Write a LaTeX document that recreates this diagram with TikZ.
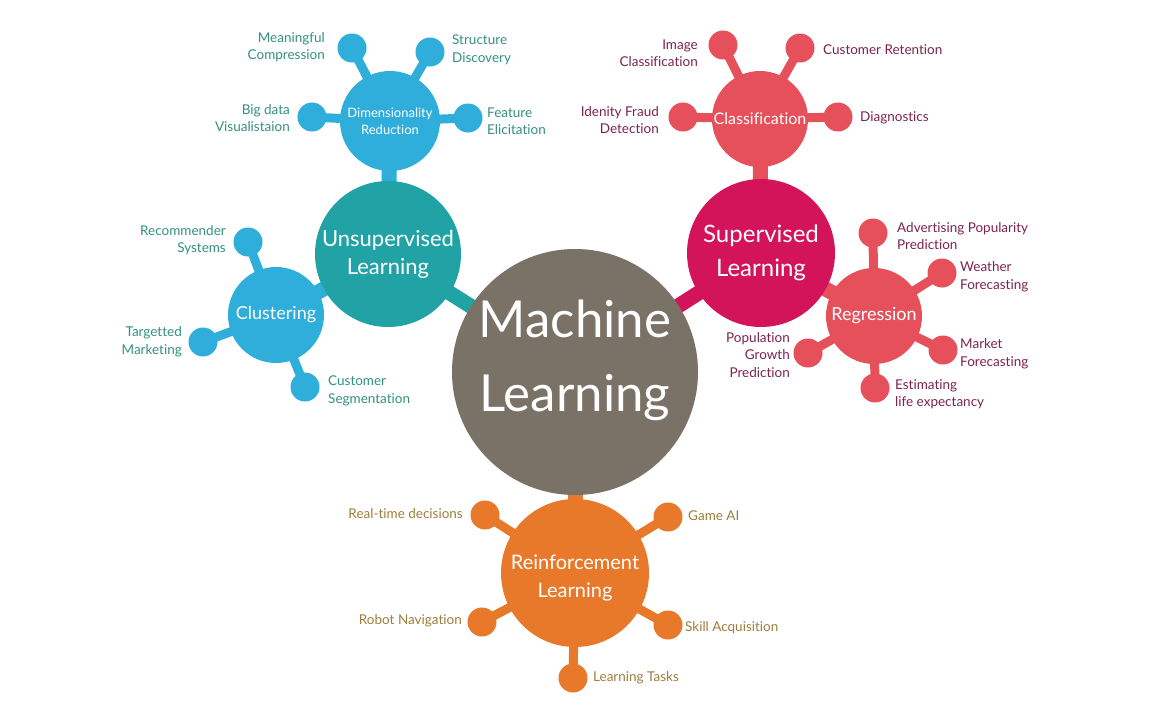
\documentclass[tikz,border=0pt]{standalone}
\usepackage{fontspec}
\setmainfont{Lato}[Ligatures=NoCommon]
\usetikzlibrary{backgrounds}
\definecolor{mlgray}{HTML}{7A7167}
\definecolor{teal1}{HTML}{21A2A5}
\definecolor{sky}{HTML}{2FAEDC}
\definecolor{crimson}{HTML}{D3145A}
\definecolor{coral}{HTML}{E5505A}
\definecolor{orange1}{HTML}{E8792A}
\definecolor{tealtext}{HTML}{33917F}
\definecolor{redtext}{HTML}{7D2350}
\definecolor{orangetext}{HTML}{9E7E3E}
\tikzset{
  hub/.style={circle, inner sep=0pt, text=white, align=center},
  leaf/.style={circle, inner sep=0pt, minimum size=29pt},
  link/.style={line width=15pt},
  twig/.style={line width=9pt},
  lbl/.style={inner sep=0pt, font=\fontsize{13.5}{17.5}\selectfont},
  lblL/.style={lbl, anchor=west, align=left},
  lblR/.style={lbl, anchor=east, align=right}
}
\begin{document}
\begin{tikzpicture}[x=1pt,y=-1pt]
\useasboundingbox (0,0) rectangle (1152,720);

% hubs
\node[hub, fill=mlgray, minimum size=246pt,
  label={[text=white, align=center, font=\fontsize{51}{74}\selectfont, yshift=12pt]center:{Machine\\Learning}}] (ml) at (575,372) {};
\node[hub, fill=teal1, minimum size=146pt, font=\fontsize{22}{28}\selectfont] (us) at (388,254) {Unsupervised\\Learning};
\node[hub, fill=sky, minimum size=100pt, font=\fontsize{13}{17}\selectfont] (dr) at (390,121) {Dimensionality\\Reduction};
\node[hub, fill=sky, minimum size=96pt, font=\fontsize{18}{22}\selectfont] (cl) at (276,315) {Clustering};
\node[hub, fill=crimson, minimum size=148pt, font=\fontsize{24}{34}\selectfont] (sl) at (761,253) {Supervised\\Learning};
\node[hub, fill=coral, minimum size=96pt, font=\fontsize{16}{20}\selectfont] (cf) at (760,119) {Classification};
\node[hub, fill=coral, minimum size=96pt, font=\fontsize{18}{22}\selectfont] (rg) at (874,316) {Regression};
\node[hub, fill=orange1, minimum size=148pt,
  label={[text=white, align=center, font=\fontsize{20}{28}\selectfont, yshift=-5pt]center:{Reinforcement\\Learning}}] (rl) at (575,573) {};

% leaves
\foreach \n/\x/\y in {dr1/352/48, dr2/430/52, dr3/312/117, dr4/468/118}
  \node[leaf, fill=sky] (\n) at (\x,\y) {};
\foreach \n/\x/\y in {cl1/248/242, cl2/203/342, cl3/305/387}
  \node[leaf, fill=sky] (\n) at (\x,\y) {};
\foreach \n/\x/\y in {cf1/723/45, cf2/800/48, cf3/683/117, cf4/838/117}
  \node[leaf, fill=coral] (\n) at (\x,\y) {};
\foreach \n/\x/\y in {rg1/873/233, rg2/942/273, rg3/943/350, rg4/875/388, rg5/808/353}
  \node[leaf, fill=coral] (\n) at (\x,\y) {};
\foreach \n/\x/\y in {rl1/485/515, rl2/668/517, rl3/482/622, rl4/668/625, rl5/573/678}
  \node[leaf, fill=orange1] (\n) at (\x,\y) {};

% connectors
\begin{scope}[on background layer]
  \fill[white] (0,0) rectangle (1152,720);
  \draw[link, teal1] (ml.center) -- (us.center);
  \draw[link, sky] (us.center) -- (dr.center);
  \draw[link, sky] (us.center) -- (cl.center);
  \draw[link, crimson] (ml.center) -- (sl.center);
  \draw[link, coral] (sl.center) -- (cf.center);
  \draw[link, coral] (sl.center) -- (rg.center);
  \draw[link, orange1] (ml.center) -- (rl.center);
  \foreach \n in {dr1,dr2,dr3,dr4} \draw[twig, sky] (dr.center) -- (\n.center);
  \foreach \n in {cl1,cl2,cl3} \draw[twig, sky] (cl.center) -- (\n.center);
  \foreach \n in {cf1,cf2,cf3,cf4} \draw[twig, coral] (cf.center) -- (\n.center);
  \foreach \n in {rg1,rg2,rg3,rg4,rg5} \draw[twig, coral] (rg.center) -- (\n.center);
  \foreach \n in {rl1,rl2,rl3,rl4,rl5} \draw[twig, orange1] (rl.center) -- (\n.center);
\end{scope}

% labels - unsupervised
\begin{scope}[text=tealtext]
\node[lblR] (t1) at (325,47) {Meaningful\\Compression};
\node[lblL] (t2) at (452,50) {Structure\\Discovery};
\node[lblR] (t3) at (290,118) {Big data\\Visualistaion};
\node[lblL] (t4) at (487,121) {Feature\\Elicitation};
\node[lblR] (t5) at (226,240) {Recommender\\Systems};
\node[lblR] (t6) at (182,342) {Targetted\\Marketing};
\node[lblL] (t7) at (328,391) {Customer\\Segmentation};
\end{scope}

% labels - supervised
\begin{scope}[text=redtext]
\node[lblR] (s1) at (698,53) {Image\\Classification};
\node[lblL] (s2) at (823,50) {Customer Retention};
\node[lblR] (s3) at (659,120) {Idenity Fraud\\Detection};
\node[lblL] (s4) at (860,118) {Diagnostics};
\node[lblL] (s5) at (897,236) {Advertising Popularity\\Prediction};
\node[lblL] (s6) at (960,277) {Weather\\Forecasting};
\node[lblL] (s7) at (960,354) {Market\\Forecasting};
\node[lblL] (s8) at (895,394) {Estimating\\life expectancy};
\node[lblR] (s9) at (790,355) {Population\\Growth\\Prediction};
\end{scope}

% labels - reinforcement
\begin{scope}[text=orangetext]
\node[lblR] (r1) at (463,514) {Real-time decisions};
\node[lblL] (r2) at (688,516) {Game AI};
\node[lblR] (r3) at (462,621) {Robot Navigation};
\node[lblL] (r4) at (685,628) {Skill Acquisition};
\node[lblL] (r5) at (593,678) {Learning Tasks};
\end{scope}
\end{tikzpicture}
\end{document}
